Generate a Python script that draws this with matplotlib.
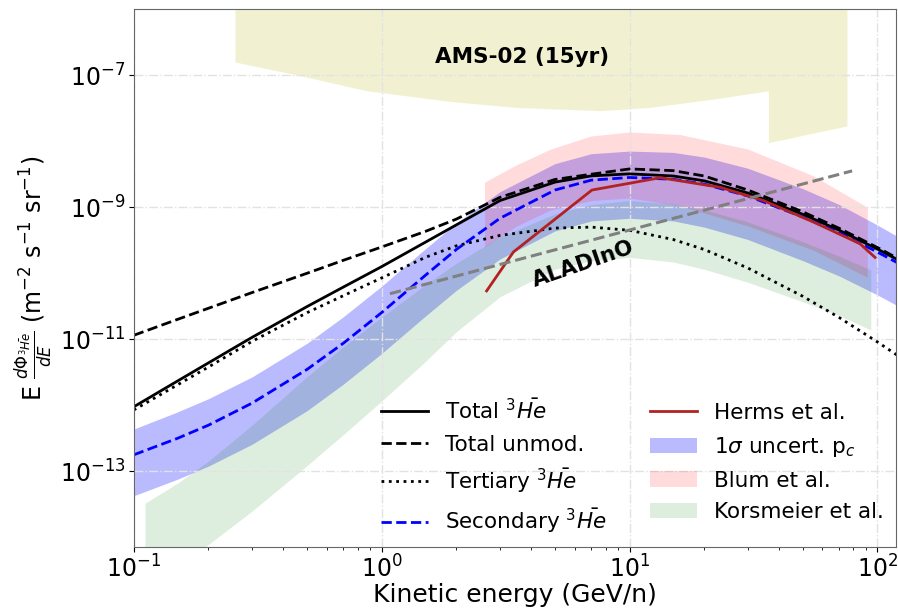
import matplotlib
matplotlib.use("Agg")
import matplotlib.pyplot as plt
from matplotlib.ticker import NullLocator

# kinetic energy grid (GeV/n) for the model curves
energy = [0.1, 0.15, 0.2, 0.3, 0.5, 0.7, 1, 1.5, 2, 3, 5, 7, 10, 15, 20, 30, 50, 70, 100, 120]

total = [9.5e-13, 2.33e-12, 4.39e-12, 1.07e-11, 3.13e-11, 6.17e-11, 1.26e-10, 2.95e-10, 5.4e-10, 1.26e-9,
         2.4e-9, 2.98e-9, 3.2e-9, 2.97e-9, 2.51e-9, 1.64e-9, 7.8e-10, 4.49e-10, 2.32e-10, 1.62e-10]
total_unmod = [1.15e-11, 2.0e-11, 2.95e-11, 5.1e-11, 1.0e-10, 1.57e-10, 2.5e-10, 4.3e-10, 6.6e-10, 1.41e-9,
               2.63e-9, 3.16e-9, 3.8e-9, 3.58e-9, 2.97e-9, 1.82e-9, 8.5e-10, 4.8e-10, 2.45e-10, 1.7e-10]
tertiary = [8.5e-13, 2.04e-12, 3.8e-12, 9.3e-12, 2.53e-11, 4.57e-11, 8.5e-11, 1.74e-10, 2.6e-10, 3.74e-10,
            4.83e-10, 5.0e-10, 4.47e-10, 3.24e-10, 2.29e-10, 1.2e-10, 4.47e-11, 2.14e-11, 9.1e-12, 5.75e-12]
secondary = [1.78e-13, 3.16e-13, 5.0e-13, 1.08e-12, 3.5e-12, 8.7e-12, 2.54e-11, 9.3e-11, 2.29e-10, 6.8e-10,
             1.82e-9, 2.57e-9, 2.82e-9, 2.65e-9, 2.24e-9, 1.48e-9, 7.1e-10, 4.1e-10, 2.09e-10, 1.45e-10]
pc_upper = [4.37e-13, 7.94e-13, 1.26e-12, 2.69e-12, 8.7e-12, 2.19e-11, 6.38e-11, 2.34e-10, 5.75e-10, 1.72e-9,
            4.57e-9, 6.46e-9, 7.08e-9, 6.76e-9, 5.75e-9, 3.89e-9, 1.91e-9, 1.1e-9, 5.37e-10, 3.63e-10]
pc_lower = [4.27e-14, 7.6e-14, 1.2e-13, 2.57e-13, 8.3e-13, 2.09e-12, 6.1e-12, 2.24e-11, 5.5e-11, 1.64e-10,
            4.37e-10, 6.2e-10, 6.8e-10, 6.2e-10, 5.0e-10, 3.24e-10, 1.55e-10, 9.1e-11, 4.7e-11, 3.24e-11]

# Korsmeier et al. band
kors_energy = [0.111, 0.15, 0.2, 0.3, 0.5, 0.7, 1, 1.5, 2, 3, 5, 7, 10, 15, 20, 30, 50, 70, 94]
kors_upper = [3.3e-14, 6.6e-14, 1.43e-13, 5.0e-13, 2.71e-12, 7.7e-12, 2.16e-11, 6.7e-11, 1.42e-10, 3.55e-10,
              7.9e-10, 1.1e-9, 1.26e-9, 1.12e-9, 9.1e-10, 6.0e-10, 3.0e-10, 1.82e-10, 1.12e-10]
kors_lower = [1.9e-15, 3.66e-15, 7.8e-15, 2.5e-14, 1.22e-13, 3.6e-13, 1.16e-12, 4.6e-12, 1.3e-11, 4.4e-11,
              1.15e-10, 1.55e-10, 1.74e-10, 1.48e-10, 1.15e-10, 7.3e-11, 3.7e-11, 2.3e-11, 1.38e-11]

# Blum et al. band
blum_energy = [2.6, 3.5, 4.8, 7, 10, 16, 30, 55, 91]
blum_upper = [2.4e-9, 4.4e-9, 7.6e-9, 1.2e-8, 1.38e-8, 1.26e-8, 7.6e-9, 3.0e-9, 1.0e-9]
blum_lower = [2.5e-10, 5.2e-10, 9.1e-10, 1.26e-9, 1.38e-9, 1.05e-9, 5.2e-10, 2.24e-10, 8.7e-11]

# Herms et al.
herms_energy = [2.65, 3.4, 7.05, 13.3, 23.2, 34.7, 55, 85, 97.7]
herms_flux = [5.4e-11, 2.1e-10, 1.82e-9, 2.8e-9, 2.0e-9, 1.26e-9, 6.0e-10, 2.8e-10, 1.74e-10]

# sensitivities
aladino_energy = [1.08, 79]
aladino_flux = [4.9e-11, 3.55e-9]
ams_energy = [0.256, 0.47, 0.87, 1.89, 3.5, 7.6, 12, 22.4, 36.3, 36.3, 75.3]
ams_lower = [1.58e-7, 9.8e-8, 5.8e-8, 4.0e-8, 3.24e-8, 2.9e-8, 3.24e-8, 4.4e-8, 5.8e-8, 9.5e-9, 1.7e-8]
ams_top = 1e-5

he3 = r"$^3\bar{He}$"

fig = plt.figure(figsize=(8.98, 6.08), dpi=100)
ax = fig.add_axes([0.149, 0.100, 0.849, 0.885])

ax.fill_between(ams_energy, ams_lower, ams_top, color="#bcbd22", alpha=0.2, lw=0)
f_pc = ax.fill_between(energy, pc_lower, pc_upper, color="blue", alpha=0.27, lw=0, label=r"1$\sigma$ uncert. p$_c$")
f_blum = ax.fill_between(blum_energy, blum_lower, blum_upper, color="red", alpha=0.14, lw=0, label="Blum et al.")
f_kors = ax.fill_between(kors_energy, kors_lower, kors_upper, color="green", alpha=0.13, lw=0,
                         label="Korsmeier et al.")

l_tot, = ax.plot(energy, total, "k-", lw=2, label="Total " + he3)
l_unmod, = ax.plot(energy, total_unmod, "k--", lw=2, label="Total unmod.")
l_ter, = ax.plot(energy, tertiary, "k:", lw=2, label="Tertiary " + he3)
l_sec, = ax.plot(energy, secondary, "b--", lw=2, label="Secondary " + he3)
l_herms, = ax.plot(herms_energy, herms_flux, color="firebrick", lw=2, label="Herms et al.")
ax.plot(aladino_energy, aladino_flux, "--", color="grey", lw=2.2)

ax.text(3.7, 1.9e-7, "AMS-02 (15yr)", fontsize=15.5, fontweight="bold", ha="center", va="center")
ax.text(6.5, 1.4e-10, "ALADInO", fontsize=15.5, fontweight="bold", ha="center", va="center", rotation=19)

ax.set_xscale("log")
ax.set_yscale("log")
ax.set_xlim(0.1, 119)
ax.set_ylim(7.1e-15, 1e-6)
ax.set_yticks([1e-13, 1e-11, 1e-9, 1e-7])
ax.yaxis.set_minor_locator(NullLocator())
ax.tick_params(labelsize=17, pad=2.5)
ax.grid(True, which="major", ls="-.", color="#e2e2e2", lw=1)
for sp in ax.spines.values():
    sp.set_color("#666666")

ax.set_xlabel("Kinetic energy (GeV/n)", fontsize=18)
ax.xaxis.set_label_coords(0.5, -0.066)
ax.xaxis.label.set_va("top")
ax.set_ylabel(r"E $\frac{d\Phi_{^3\bar{He}}}{dE}$ (m$^{-2}$ s$^{-1}$ sr$^{-1}$)", fontsize=17, labelpad=3)

handles = [l_tot, l_unmod, l_ter, l_sec, l_herms, f_pc, f_blum, f_kors]
ax.legend(handles=handles, ncol=2, loc="lower right", frameon=False, fontsize=15.5,
          handlelength=2.2, borderaxespad=0.15, labelspacing=0.55)

fig.savefig("out.png", dpi=100)
